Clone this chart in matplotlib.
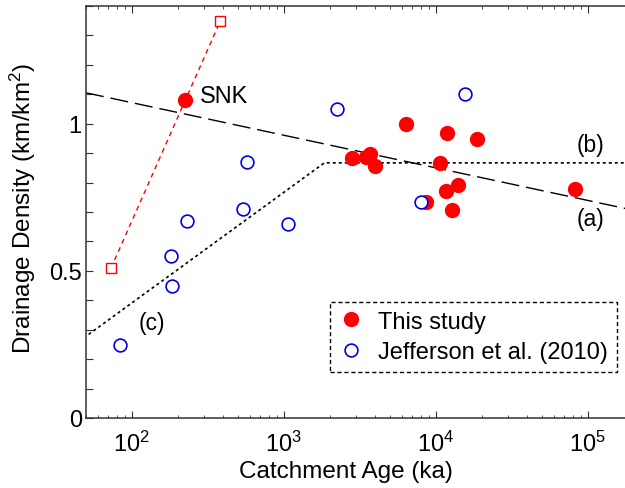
import numpy as np
import matplotlib
matplotlib.use('Agg')
import matplotlib.pyplot as plt
from matplotlib.ticker import MultipleLocator, FuncFormatter, LogLocator

plt.rcParams['font.family'] = ['Liberation Sans', 'DejaVu Sans']
plt.rcParams['mathtext.default'] = 'regular'

# this study (catchment age in ka, drainage density in km/km2)
study_age = [224, 6380, 11900, 18600, 2810, 3480, 3700, 4010, 10700, 14000, 11700, 12700, 82200, 8570]
study_dd = [1.079, 1.0, 0.969, 0.949, 0.883, 0.887, 0.898, 0.856, 0.866, 0.793, 0.771, 0.707, 0.777, 0.734]

# Jefferson et al. (2010)
jeff_age = [2230, 577, 537, 230, 1060, 15500, 8020, 180, 185, 84]
jeff_dd = [1.049, 0.870, 0.709, 0.669, 0.659, 1.102, 0.734, 0.549, 0.450, 0.249]

# SNK range (squares at both ends)
snk_age = [73, 382]
snk_dd = [0.509, 1.348]

# trend (a) and the piecewise curve (b)/(c)
line_a_age = [50, 2e5]
line_a_dd = [1.105, 0.706]
line_bc_age = [52, 1850, 2e5]
line_bc_dd = [0.284, 0.867, 0.867]

W, H = 625, 489
fig = plt.figure(figsize=(W / 100, H / 100), dpi=100)
# axes runs a bit past the right edge of the picture, like the original
ax = fig.add_axes([86 / W, (H - 419) / H, 547.5 / W, 412 / H])

ax.plot(line_a_age, line_a_dd, color='black', lw=1.0, dashes=(13, 5), zorder=2)
ax.plot(line_bc_age, line_bc_dd, color='black', lw=1.2, dashes=(1.8, 1.8), zorder=2)
ax.plot(snk_age, snk_dd, color='red', lw=1.0, dashes=(3.5, 3), marker='s', ms=7.5,
        mfc='white', mec='red', mew=1.0, zorder=3)

ax.plot(study_age, study_dd, 'o', color='red', ms=10, mec='red', zorder=4, label='This study')
ax.plot(jeff_age, jeff_dd, 'o', mfc='white', mec='#0000ee', ms=9.2, mew=1.2, zorder=5,
        label='Jefferson et al. (2010)')

ax.set_xscale('log')
ax.set_xlim(50, 2e5)
ax.set_ylim(0, 1.4)

ax.yaxis.set_major_locator(MultipleLocator(0.1))
ax.yaxis.set_major_formatter(FuncFormatter(
    lambda v, p: {0: '0', 5: '0.5', 10: '1'}.get(int(round(v * 10)), '')))
ax.xaxis.set_major_locator(LogLocator(base=10))
ax.xaxis.set_minor_locator(LogLocator(base=10, subs=np.arange(2, 10)))

ax.tick_params(which='both', direction='in', top=True, right=True, labelsize=17, color='#333333')
ax.tick_params(axis='x', which='major', length=5, pad=9)
ax.tick_params(axis='x', which='minor', length=2)
ax.tick_params(axis='y', which='major', length=5, pad=3)
for s in ax.spines.values():
    s.set_linewidth(1.1)
    s.set_color('#333333')

ax.set_xlabel('Catchment Age (ka)', fontsize=17.5)
ax.set_ylabel('Drainage Density (km/km$^2$)', fontsize=17.5)
ax.xaxis.set_label_coords((346 - 86) / 547.5, (419 - 461) / 412)
ax.yaxis.set_label_coords((38 - 86) / 547.5, (419 - 208) / 412)

ax.text(279, 1.095, 'SNK', fontsize=17, ha='left', va='center')
ax.text(1.04e5, 0.929, '(b)', fontsize=16.5, ha='center', va='center')
ax.text(1.04e5, 0.677, '(a)', fontsize=16.5, ha='center', va='center')
ax.text(135, 0.323, '(c)', fontsize=16.5, ha='center', va='center')

leg = ax.legend(loc='upper left', bbox_to_anchor=(330 / W, 1 - 302.7 / H),
                bbox_transform=fig.transFigure, borderaxespad=0, fontsize=17,
                handlelength=1.0, handletextpad=0.67, borderpad=0.38,
                labelspacing=0.37, fancybox=False, framealpha=1)
frame = leg.get_frame()
frame.set_edgecolor('black')
frame.set_linewidth(1.0)
frame.set_linestyle((0, (3, 2)))

fig.savefig('out.png', dpi=100)
